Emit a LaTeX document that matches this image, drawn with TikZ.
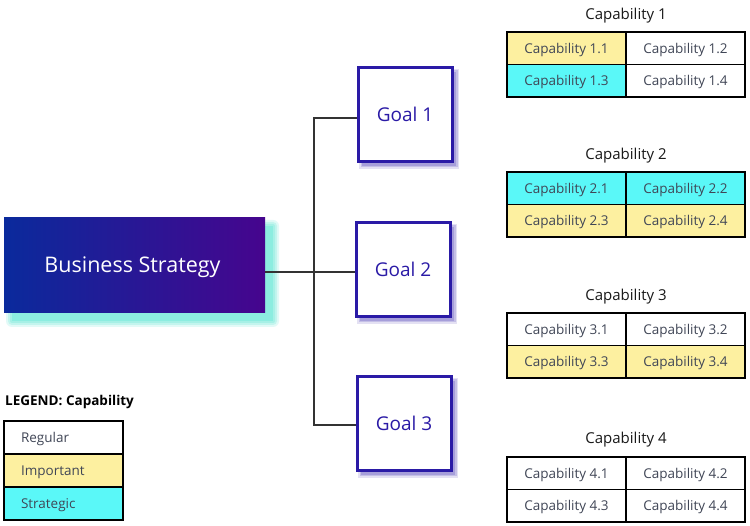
\documentclass[tikz,border=0pt]{standalone}
\usepackage{fontspec}
\setmainfont{Open Sans}
\usetikzlibrary{positioning}
\definecolor{gblue}{HTML}{2A1AA6}
\definecolor{gshadow}{HTML}{A69EDA}
\definecolor{bsleft}{HTML}{0A2A9C}
\definecolor{bsright}{HTML}{46058E}
\definecolor{bsshadow}{HTML}{8CEDE0}
\definecolor{yel}{HTML}{FDF0A0}
\definecolor{cya}{HTML}{5AF8F8}
\definecolor{celltext}{HTML}{404656}
\definecolor{linec}{HTML}{333333}
\tikzset{
  goalbox/.style={draw=gblue, line width=3pt, fill=white, minimum width=94pt, minimum height=94pt, inner sep=0pt, text=gblue, font=\fontsize{19}{21}\selectfont, text height=13.5pt, text depth=0pt},
  cell/.style={draw=black, line width=1.2pt, minimum width=119pt, minimum height=32.5pt, inner sep=0pt, text=celltext, font=\fontsize{13.5}{15}\selectfont, text height=10pt, text depth=0pt},
  captitle/.style={font=\fontsize{15}{17}\selectfont, text=black!90, text height=11pt, text depth=0pt},
  legbox/.style={draw=black, line width=1.2pt, minimum width=119pt, minimum height=33pt, inner sep=0pt, text=celltext, font=\fontsize{13.5}{15}\selectfont, align=left, text width=85pt, text height=10pt, text depth=0pt},
  conn/.style={draw=linec, line width=1.1pt}
}
\begin{document}
\begin{tikzpicture}[x=1pt,y=-1pt]
\useasboundingbox (0,0) rectangle (750,526);
\fill[white] (0,0) rectangle (750,526);
% business strategy shadow
\foreach \o/\k in {6/0.25,4/0.35,2/0.5,0/1}{
  \fill[bsshadow, opacity=\k, rounded corners=\o pt] (12-\o,226-\o) rectangle (273+\o,321+\o);
}
\node[minimum width=261pt, minimum height=95pt, inner sep=0pt, left color=bsleft, right color=bsright, text=white, font=\fontsize{21.5}{24}\selectfont, text height=15pt, text depth=0pt] (bs) at (134.5,265.5) {\hspace*{-4pt}Business Strategy};
% goal shadows
\foreach \cx/\cy in {405/115, 403/270, 404/424}{
  \foreach \o/\k in {3/0.3,1.5/0.5,0/1}{
    \fill[gshadow, opacity=\k] (\cx-47+4-\o,\cy-47+4-\o) rectangle (\cx+47+4+\o,\cy+47+4+\o);
  }
}
\node[goalbox] (g1) at (405,115) {Goal 1};
\node[goalbox] (g2) at (403,270) {Goal 2};
\node[goalbox] (g3) at (404,424) {Goal 3};
% connectors
\coordinate (top) at (314,118);
\coordinate (bot) at (314,425);
\coordinate (mid) at (314,272);
\draw[conn] (g1.west |- top) -- (top) -- (bot) -- (g3.west |- bot);
\draw[conn] (bs.east |- mid) -- (mid) -- (g2.west |- mid);
% capability tables
% Cap 1
\node[captitle] (t1) at (626,14) {Capability 1};
\node[cell, fill=yel] (c11) at (566.5,48.25) {Capability 1.1};
\node[cell, fill=white] (c12) at (685.5,48.25) {Capability 1.2};
\node[cell, fill=cya] (c13) at (566.5,80.75) {Capability 1.3};
\node[cell, fill=white] (c14) at (685.5,80.75) {Capability 1.4};
% Cap 2
\node[captitle] (t2) at (626,154) {Capability 2};
\node[cell, fill=cya] (c21) at (566.5,188.25) {Capability 2.1};
\node[cell, fill=cya] (c22) at (685.5,188.25) {Capability 2.2};
\node[cell, fill=yel] (c23) at (566.5,220.75) {Capability 2.3};
\node[cell, fill=yel] (c24) at (685.5,220.75) {Capability 2.4};
% Cap 3
\node[captitle] (t3) at (626,295) {Capability 3};
\node[cell, fill=white] (c31) at (566.5,329.25) {Capability 3.1};
\node[cell, fill=white] (c32) at (685.5,329.25) {Capability 3.2};
\node[cell, fill=yel] (c33) at (566.5,361.75) {Capability 3.3};
\node[cell, fill=yel] (c34) at (685.5,361.75) {Capability 3.4};
% Cap 4
\node[captitle] (t4) at (626,438) {Capability 4};
\node[cell, fill=white] (c41) at (566.5,473.25) {Capability 4.1};
\node[cell, fill=white] (c42) at (685.5,473.25) {Capability 4.2};
\node[cell, fill=white] (c43) at (566.5,505.75) {Capability 4.3};
\node[cell, fill=white] (c44) at (685.5,505.75) {Capability 4.4};
% legend
\node[anchor=west, inner sep=0pt, font=\bfseries\fontsize{13.5}{15}\selectfont, text height=10pt, text depth=0pt] (lt) at (5,401) {LEGEND: Capability};
\node[legbox, fill=white] (l1) at (63.5,437.5) {Regular};
\node[legbox, fill=yel] (l2) at (63.5,470.5) {Important};
\node[legbox, fill=cya] (l3) at (63.5,503.5) {Strategic};
\end{tikzpicture}
\end{document}
